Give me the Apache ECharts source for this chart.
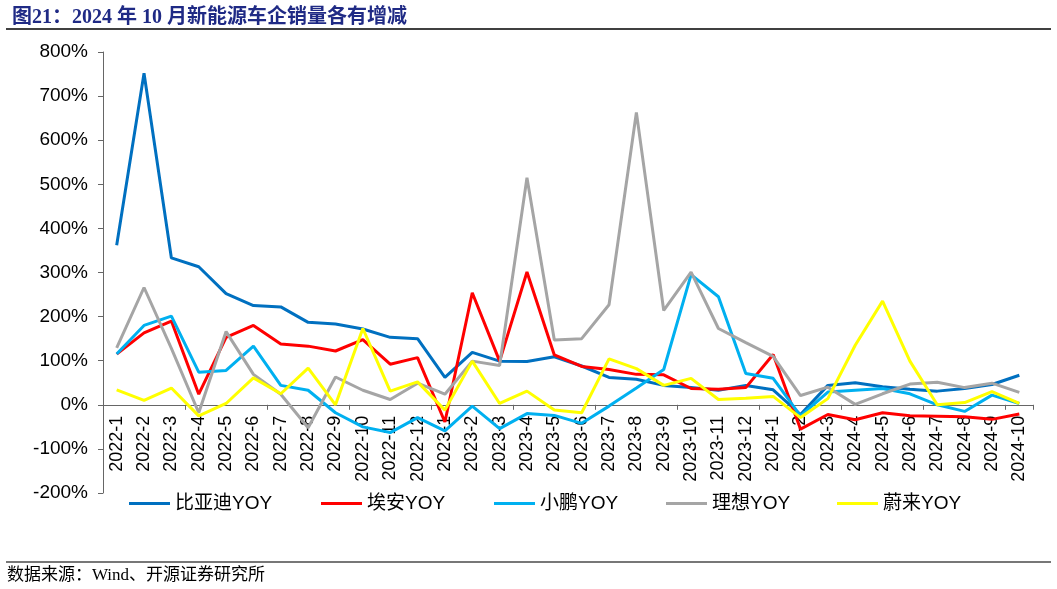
<!DOCTYPE html>
<html>
<head>
<meta charset="utf-8">
<script src="https://cdn.jsdelivr.net/npm/echarts@6/dist/echarts.min.js"></script>
<style>
  html, body { margin: 0; padding: 0; background: #fff; }
  #chart { width: 1057px; height: 589px; }
</style>
</head>
<body>
<div id="chart"></div>
<script>
// 月份
const months = [
  '2022-1', '2022-2', '2022-3', '2022-4', '2022-5', '2022-6', '2022-7', '2022-8', '2022-9', '2022-10', '2022-11', '2022-12',
  '2023-1', '2023-2', '2023-3', '2023-4', '2023-5', '2023-6', '2023-7', '2023-8', '2023-9', '2023-10', '2023-11', '2023-12',
  '2024-1', '2024-2', '2024-3', '2024-4', '2024-5', '2024-6', '2024-7', '2024-8', '2024-9', '2024-10'
]

// 同比增速（%）
const bydYoy = [362, 752, 333, 313, 252, 225, 222, 187, 183, 172, 153, 150,
  62, 119, 99, 98, 109, 88, 62, 58, 44, 39, 33, 44,
  34, -22, 44, 50, 41, 35, 31, 37, 46, 67]
const aionYoy = [115, 163, 190, 24, 153, 180, 138, 133, 122, 148, 92, 107,
  -39, 254, 99, 301, 113, 87, 80, 69, 68, 37, 35, 39,
  114, -55, -22, -34, -18, -25, -26, -27, -33, -21]
const xpengYoy = [115, 180, 201, 74, 78, 133, 44, 33, -18, -50, -63, -29,
  -59, -3, -54, -20, -24, -42, -3, 38, 80, 295, 245, 71,
  60, -25, 29, 33, 37, 25, 0, -15, 22, 3]
const liYoy = [129, 266, 128, -18, 166, 69, 24, -52, 63, 33, 12, 49,
  24, 99, 89, 515, 147, 150, 227, 663, 214, 301, 173, 141,
  110, 21, 40, 1, 25, 47, 51, 39, 49, 28]
const nioYoy = [34, 10, 38, -25, 3, 61, 25, 83, 0, 173, 31, 52,
  -12, 99, 3, 31, -12, -18, 104, 82, 44, 60, 12, 15,
  19, -29, 14, 135, 235, 99, 0, 5, 30, 3]

const seriesNames = ['比亚迪YOY', '埃安YOY', '小鹏YOY', '理想YOY', '蔚来YOY']
const seriesColors = ['#0070C0', '#FF0000', '#00B0F0', '#A5A5A5', '#FFFF00']
const seriesData = [bydYoy, aionYoy, xpengYoy, liYoy, nioYoy]
const legendLeft = [124, 316, 489, 661, 832]

const yMin = -200
const yMax = 800
const gridTop = 52
const gridHeight = 441
// 0% 所在的像素位置，月份标签贴着这条线
const zeroY = gridTop + gridHeight * yMax / (yMax - yMin)

const chart = echarts.init(document.getElementById('chart'))

chart.setOption({
  animation: false,
  textStyle: { fontFamily: '"Liberation Sans", "Noto Sans CJK SC", sans-serif' },
  title: {
    text: '图21：2024 年 10 月新能源车企销量各有增减',
    left: 7,
    top: 3,
    textStyle: {
      color: '#1F2A85',
      fontSize: 20,
      fontWeight: 'bold',
      fontFamily: '"Liberation Serif", "Noto Sans CJK SC", serif'
    }
  },
  graphic: [
    { type: 'line', shape: { x1: 6, y1: 29, x2: 1051, y2: 29 }, style: { stroke: '#000', lineWidth: 1.5 } },
    { type: 'line', shape: { x1: 6, y1: 562, x2: 1051, y2: 562 }, style: { stroke: '#777', lineWidth: 2 } },
    {
      type: 'text',
      left: 7,
      top: 567,
      style: {
        text: '数据来源：Wind、开源证券研究所',
        fill: '#000',
        fontSize: 17,
        fontFamily: '"Liberation Serif", "Noto Sans CJK SC", serif'
      }
    }
  ],
  legend: seriesNames.map((name, i) => ({
    data: [name],
    left: legendLeft[i],
    top: 489,
    icon: 'rect',
    itemWidth: 41,
    itemHeight: 3,
    itemGap: 5,
    textStyle: { fontSize: 19, color: '#000' }
  })),
  grid: [
    { left: 103, right: 24, top: gridTop, height: gridHeight, containLabel: false },
    // 只用来放月份标签
    { left: 103, right: 24, top: gridTop, height: zeroY - gridTop, containLabel: false }
  ],
  xAxis: [
    {
      type: 'category',
      gridIndex: 0,
      data: months,
      boundaryGap: true,
      axisLine: { onZero: true, lineStyle: { color: '#666', width: 1 } },
      axisTick: { show: true, length: 5, lineStyle: { color: '#666' } },
      axisLabel: { show: false },
      splitLine: { show: false }
    },
    {
      type: 'category',
      gridIndex: 1,
      data: months,
      boundaryGap: true,
      axisLine: { show: false },
      axisTick: { show: false },
      axisLabel: {
        interval: 0,
        rotate: 90,
        margin: 11,
        fontSize: 18,
        color: '#000'
      },
      splitLine: { show: false }
    }
  ],
  yAxis: [
    {
      type: 'value',
      gridIndex: 0,
      min: yMin,
      max: yMax,
      interval: 100,
      axisLine: { show: true, lineStyle: { color: '#666', width: 1 } },
      axisTick: { show: true, length: 5, lineStyle: { color: '#666' } },
      axisLabel: {
        formatter: '{value}%',
        fontSize: 19,
        color: '#000',
        margin: 15
      },
      splitLine: { show: false }
    },
    {
      type: 'value',
      gridIndex: 1,
      show: false,
      splitLine: { show: false }
    }
  ],
  series: seriesNames.map((name, i) => ({
    name: name,
    type: 'line',
    data: seriesData[i],
    showSymbol: false,
    symbol: 'none',
    lineStyle: { color: seriesColors[i], width: 3 },
    itemStyle: { color: seriesColors[i] },
    z: 2 + i
  }))
})
</script>
</body>
</html>
